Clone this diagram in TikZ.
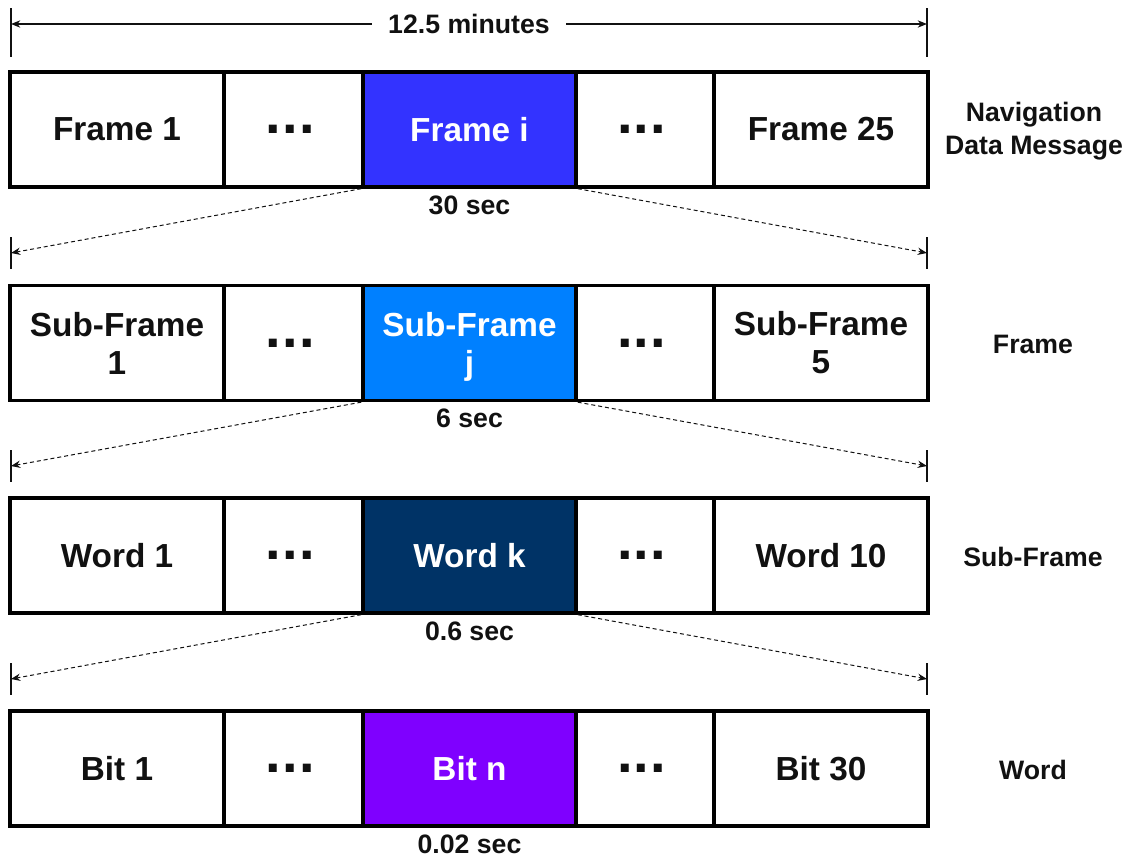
\documentclass[tikz,border=0pt]{standalone}
\usepackage{fontspec}
\setmainfont{Liberation Sans}
\usetikzlibrary{arrows.meta}
\definecolor{frameblue}{HTML}{3333FF}
\definecolor{subblue}{HTML}{0080FF}
\definecolor{wordnavy}{HTML}{003366}
\definecolor{bitviolet}{HTML}{7F00FF}
\definecolor{ink}{HTML}{111111}

\tikzset{
  cell/.style={draw=black, line width=2.5pt, inner sep=0pt, align=center,
    minimum height=86.25pt, text=ink,
    font=\fontsize{25}{28.5}\selectfont\bfseries},
  wideA/.style={cell, minimum width=160.5pt},
  narrow/.style={cell, minimum width=104.25pt},
  wideB/.style={cell, minimum width=159.75pt},
  hot/.style={text=white},
  dots/.style={font=\fontsize{42}{42}\selectfont\bfseries},
  tick/.style={line width=1.5pt, draw=ink},
  dimline/.style={line width=0.9pt, draw=ink, {Stealth[length=7pt,width=5.5pt]}-{Stealth[length=7pt,width=5.5pt]}},
  zoomline/.style={line width=0.75pt, draw=ink, dash pattern=on 3pt off 2.2pt, -{Stealth[length=7pt,width=5.5pt]}},
  dur/.style={font=\fontsize{20}{24}\selectfont\bfseries, text=ink, inner sep=1pt},
  level/.style={font=\fontsize{20}{24.75}\selectfont\bfseries, text=ink, align=center}
}
% three bold dots, set a little left of centre
\newcommand{\ddd}{.\kern1pt.\kern1pt.\kern5pt}

\begin{document}
\begin{tikzpicture}[x=0.75pt, y=-0.75pt]
\useasboundingbox (0,0) rectangle (1132,857);

% ---- overall duration -----------------------------------------------
\coordinate (t0a) at (11,8);   \coordinate (t0b) at (11,57);
\coordinate (t0c) at (927,8);  \coordinate (t0d) at (927,57);
\draw[tick] (t0a) -- (t0b);
\draw[tick] (t0c) -- (t0d);
\coordinate (d0l) at (11,24);  \coordinate (d0r) at (927,24);
\draw[dimline] (d0l) -- (d0r)
  node[midway, fill=white, inner xsep=12pt, font=\fontsize{20}{24}\selectfont\bfseries, text=ink] (dim0) {12.5 minutes};

% ---- row 1: navigation data message ----------------------------------
\node[wideA] (r1c1) at (117,129.5) {Frame 1};
\node[narrow, dots] (r1c2) at (293.5,129.5) {\ddd};
\node[wideB, fill=frameblue, hot] (r1c3) at (469.5,129.5) {Frame i};
\node[narrow, dots] (r1c4) at (645,129.5) {\ddd};
\node[wideA] (r1c5) at (821,129.5) {Frame 25};
\node[dur] (dur1) at (469.5,205) {30 sec};
\node[level] (lev1) at (1034,131) {Navigation\\Data Message};

% ---- row 2: frame ---------------------------------------------------
\coordinate (t1a) at (11,237);  \coordinate (t1b) at (11,269);
\coordinate (t1c) at (927,237); \coordinate (t1d) at (927,269);
\draw[tick] (t1a) -- (t1b);
\draw[tick] (t1c) -- (t1d);
\coordinate (a1l) at (11,253);  \coordinate (a1r) at (927,253);
\draw[zoomline] (r1c3.south west) -- (a1l);
\draw[zoomline] (r1c3.south east) -- (a1r);

\node[wideA] (r2c1) at (117,343) {Sub-Frame\\1};
\node[narrow, dots] (r2c2) at (293.5,343) {\ddd};
\node[wideB, fill=subblue, hot, text depth=0pt] (r2c3) at (469.5,343) {Sub-Frame\\j};
\node[narrow, dots] (r2c4) at (645,343) {\ddd};
\node[wideA] (r2c5) at (821,343) {Sub-Frame\\5};
\node[dur] (dur2) at (469.5,418) {6 sec};
\node[level] (lev2) at (1033,344) {Frame};

% ---- row 3: sub-frame -----------------------------------------------
\coordinate (t2a) at (11,450);  \coordinate (t2b) at (11,482);
\coordinate (t2c) at (927,450); \coordinate (t2d) at (927,482);
\draw[tick] (t2a) -- (t2b);
\draw[tick] (t2c) -- (t2d);
\coordinate (a2l) at (11,466);  \coordinate (a2r) at (927,466);
\draw[zoomline] (r2c3.south west) -- (a2l);
\draw[zoomline] (r2c3.south east) -- (a2r);

\node[wideA] (r3c1) at (117,555.5) {Word 1};
\node[narrow, dots] (r3c2) at (293.5,555.5) {\ddd};
\node[wideB, fill=wordnavy, hot] (r3c3) at (469.5,555.5) {Word k};
\node[narrow, dots] (r3c4) at (645,555.5) {\ddd};
\node[wideA] (r3c5) at (821,555.5) {Word 10};
\node[dur] (dur3) at (469.5,631) {0.6 sec};
\node[level] (lev3) at (1033,557) {Sub-Frame};

% ---- row 4: word ----------------------------------------------------
\coordinate (t3a) at (11,663);  \coordinate (t3b) at (11,695);
\coordinate (t3c) at (927,663); \coordinate (t3d) at (927,695);
\draw[tick] (t3a) -- (t3b);
\draw[tick] (t3c) -- (t3d);
\coordinate (a3l) at (11,679);  \coordinate (a3r) at (927,679);
\draw[zoomline] (r3c3.south west) -- (a3l);
\draw[zoomline] (r3c3.south east) -- (a3r);

\node[wideA] (r4c1) at (117,768.5) {Bit 1};
\node[narrow, dots] (r4c2) at (293.5,768.5) {\ddd};
\node[wideB, fill=bitviolet, hot] (r4c3) at (469.5,768.5) {Bit n};
\node[narrow, dots] (r4c4) at (645,768.5) {\ddd};
\node[wideA] (r4c5) at (821,768.5) {Bit 30};
\node[dur] (dur4) at (469.5,844) {0.02 sec};
\node[level] (lev4) at (1033,770) {Word};
\end{tikzpicture}
\end{document}
